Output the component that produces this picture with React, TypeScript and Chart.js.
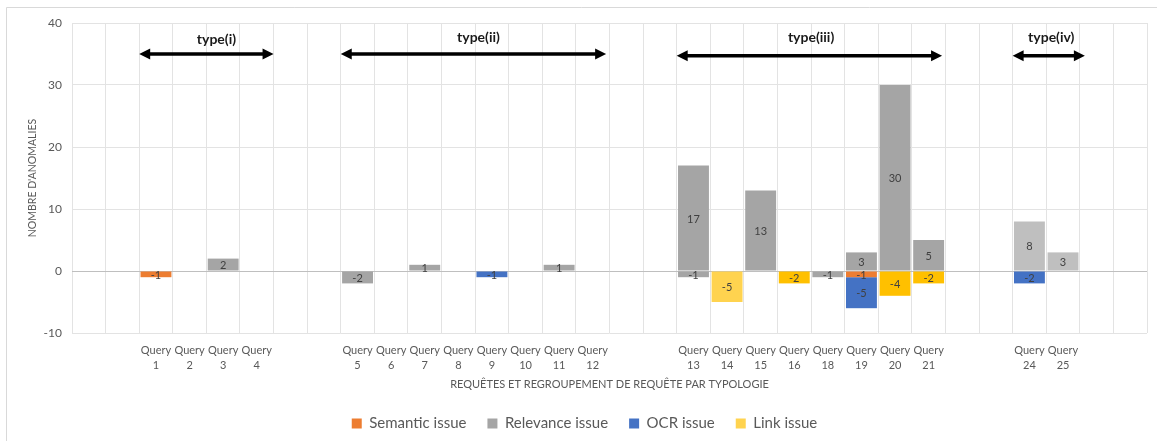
import { useEffect, useRef } from "react";
import { Chart, registerables } from "chart.js";

Chart.register(...registerables);

// Categories (empty strings are spacer slots between query groups)
const categories: string[] = [
  "", "",
  "Query 1", "Query 2", "Query 3", "Query 4",
  "", "",
  "Query 5", "Query 6", "Query 7", "Query 8", "Query 9", "Query 10", "Query 11", "Query 12",
  "", "",
  "Query 13", "Query 14", "Query 15", "Query 16", "Query 18", "Query 19", "Query 20", "Query 21",
  "", "",
  "Query 24", "Query 25",
  "", "",
];

const N = null;
// Series values aligned with categories
const semanticIssue = [N, N, -1, N, N, N, N, N, N, N, N, N, N, N, N, N, N, N, N, N, N, N, N, -1, N, N, N, N, N, N, N, N];
const relevanceIssue = [N, N, N, N, 2, N, N, N, -2, N, 1, N, N, N, 1, N, N, N, 17, N, 13, N, -1, 3, 30, 5, N, N, 8, 3, N, N];
const relevanceIssueExtra = [N, N, N, N, N, N, N, N, N, N, N, N, N, N, N, N, N, N, -1, N, N, N, N, N, N, N, N, N, N, N, N, N];
const ocrIssue = [N, N, N, N, N, N, N, N, N, N, N, N, -1, N, N, N, N, N, N, N, N, N, N, -5, N, N, N, N, -2, N, N, N];
const linkIssue = [N, N, N, N, N, N, N, N, N, N, N, N, N, N, N, N, N, N, N, -5, N, -2, N, N, -4, -2, N, N, N, N, N, N];

const legendNames = ["Semantic issue", "Relevance issue", "OCR issue", "Link issue"];
const legendColors = ["#ED7D31", "#A5A5A5", "#4472C4", "#FFD34F"];

// Annotation groups (in category-index units for x, data units for y)
const groupLabels = ["type(i)", "type(ii)", "type(iii)", "type(iv)"];
const groupStart = [1.5, 7.5, 17.5, 27.5];
const groupEnd = [5.5, 15.4, 25.4, 29.65];
const groupArrowY = [35, 35, 34.7, 34.7];
const groupLabelX = [3.8, 11.6, 21.5, 28.65];
const groupLabelY = [37.3, 37.7, 37.6, 37.7];

const FONT = "Lato, 'Open Sans', sans-serif";
const TEXT = "#595959";

function colorsFor(base: string, overrides: Record<number, string>) {
  return categories.map((_, i) => overrides[i] ?? base);
}

const dataLabelsPlugin = {
  id: "dataLabels",
  afterDatasetsDraw(chart: any) {
    const ctx = chart.ctx;
    ctx.save();
    ctx.font = `11px ${FONT}`;
    ctx.fillStyle = "#404040";
    ctx.textAlign = "center";
    ctx.textBaseline = "middle";
    chart.data.datasets.forEach((ds: any, di: number) => {
      const meta = chart.getDatasetMeta(di);
      meta.data.forEach((el: any, i: number) => {
        const v = ds.data[i];
        if (v === null || v === undefined) return;
        ctx.fillText(String(v), el.x, (el.y + el.base) / 2 + 1);
      });
    });
    ctx.restore();
  },
};

const arrowsPlugin = {
  id: "groupArrows",
  afterDraw(chart: any) {
    const ctx = chart.ctx;
    const xs = chart.scales.x;
    const ys = chart.scales.y;
    ctx.save();
    groupLabels.forEach((label, g) => {
      const x1 = xs.getPixelForValue(groupStart[g]);
      const x2 = xs.getPixelForValue(groupEnd[g]);
      const y = ys.getPixelForValue(groupArrowY[g]);
      const head = 11;
      const half = 5.5;
      ctx.strokeStyle = "#000";
      ctx.fillStyle = "#000";
      ctx.lineWidth = 3.5;
      ctx.beginPath();
      ctx.moveTo(x1 + head - 1, y);
      ctx.lineTo(x2 - head + 1, y);
      ctx.stroke();
      ctx.beginPath();
      ctx.moveTo(x1, y);
      ctx.lineTo(x1 + head, y - half);
      ctx.lineTo(x1 + head, y + half);
      ctx.closePath();
      ctx.fill();
      ctx.beginPath();
      ctx.moveTo(x2, y);
      ctx.lineTo(x2 - head, y - half);
      ctx.lineTo(x2 - head, y + half);
      ctx.closePath();
      ctx.fill();
      ctx.font = `bold 14px ${FONT}`;
      ctx.textAlign = "center";
      ctx.textBaseline = "middle";
      ctx.fillStyle = "#1a1a1a";
      ctx.fillText(label, xs.getPixelForValue(groupLabelX[g]), ys.getPixelForValue(groupLabelY[g]));
    });
    ctx.restore();
  },
};

const framePlugin = {
  id: "frame",
  beforeDraw(chart: any) {
    const ctx = chart.ctx;
    ctx.save();
    ctx.fillStyle = "#ffffff";
    ctx.fillRect(0, 0, chart.width, chart.height);
    ctx.strokeStyle = "#d9d9d9";
    ctx.lineWidth = 1;
    ctx.beginPath();
    ctx.moveTo(6.5, chart.height);
    ctx.lineTo(6.5, 7.5);
    ctx.lineTo(chart.width, 7.5);
    ctx.stroke();
    ctx.restore();
  },
};

export default function App() {
  const ref = useRef<HTMLCanvasElement | null>(null);

  useEffect(() => {
    if (!ref.current) return;
    const bar = { barPercentage: 0.92, categoryPercentage: 1, borderWidth: 0 };
    const chart = new Chart(ref.current, {
      type: "bar",
      data: {
        labels: categories,
        datasets: [
          { label: legendNames[0], data: semanticIssue, backgroundColor: colorsFor("#ED7D31", {}), ...bar },
          { label: legendNames[1], data: relevanceIssue, backgroundColor: colorsFor("#A5A5A5", { 28: "#BFBFBF", 29: "#BFBFBF" }), ...bar },
          { label: legendNames[1] + " ", data: relevanceIssueExtra, backgroundColor: colorsFor("#A5A5A5", {}), ...bar },
          { label: legendNames[2], data: ocrIssue, backgroundColor: colorsFor("#4472C4", {}), ...bar },
          { label: legendNames[3], data: linkIssue, backgroundColor: colorsFor("#FFC000", { 19: "#FFD34F" }), ...bar },
        ],
      } as any,
      options: {
        animation: false,
        responsive: false,
        layout: { padding: { top: 23, left: 22, right: 10, bottom: 0 } },
        plugins: {
          tooltip: { enabled: false },
          legend: {
            position: "bottom",
            labels: {
              boxWidth: 10,
              boxHeight: 10,
              padding: 21,
              color: TEXT,
              font: { family: FONT, size: 15 },
              generateLabels: () =>
                legendNames.map((name, i) => ({
                  text: name,
                  fillStyle: legendColors[i],
                  strokeStyle: legendColors[i],
                  lineWidth: 0,
                  hidden: false,
                  fontColor: TEXT,
                  datasetIndex: i,
                })),
            },
          },
        },
        scales: {
          x: {
            stacked: true,
            grid: { offset: true, color: "#e3e3e3", drawTicks: false },
            border: { display: false },
            ticks: {
              autoSkip: false,
              maxRotation: 0,
              minRotation: 0,
              padding: 9,
              color: TEXT,
              font: { family: FONT, size: 11, lineHeight: 1.45 },
              callback: (_v: any, i: number) => (categories[i] ? categories[i].split(" ") : ""),
            },
            title: {
              display: true,
              text: "REQUÊTES ET REGROUPEMENT DE REQUÊTE PAR TYPOLOGIE",
              color: TEXT,
              font: { family: FONT, size: 11 },
              padding: { top: 4, bottom: 4 },
            },
            afterFit: (s: any) => {
              s.height = 62;
            },
          },
          y: {
            stacked: true,
            min: -10,
            max: 40,
            ticks: { stepSize: 10, padding: 10, color: TEXT, font: { family: FONT, size: 12 } },
            grid: {
              drawTicks: false,
              color: (c: any) => (c.tick && c.tick.value === 0 ? "#bfbfbf" : "#e3e3e3"),
            },
            border: { display: false },
            title: {
              display: true,
              text: "NOMBRE D'ANOMALIES",
              color: TEXT,
              font: { family: FONT, size: 10.5 },
              padding: { top: 4, bottom: 4 },
            },
            afterFit: (s: any) => {
              s.width = 50;
            },
          },
        },
      } as any,
      plugins: [framePlugin, dataLabelsPlugin, arrowsPlugin],
    });
    return () => chart.destroy();
  }, []);

  return (
    <div style={{ position: "fixed", left: 0, top: 0, width: 1157, height: 441, background: "#fff" }}>
      <canvas ref={ref} width={1157} height={441} />
    </div>
  );
}
